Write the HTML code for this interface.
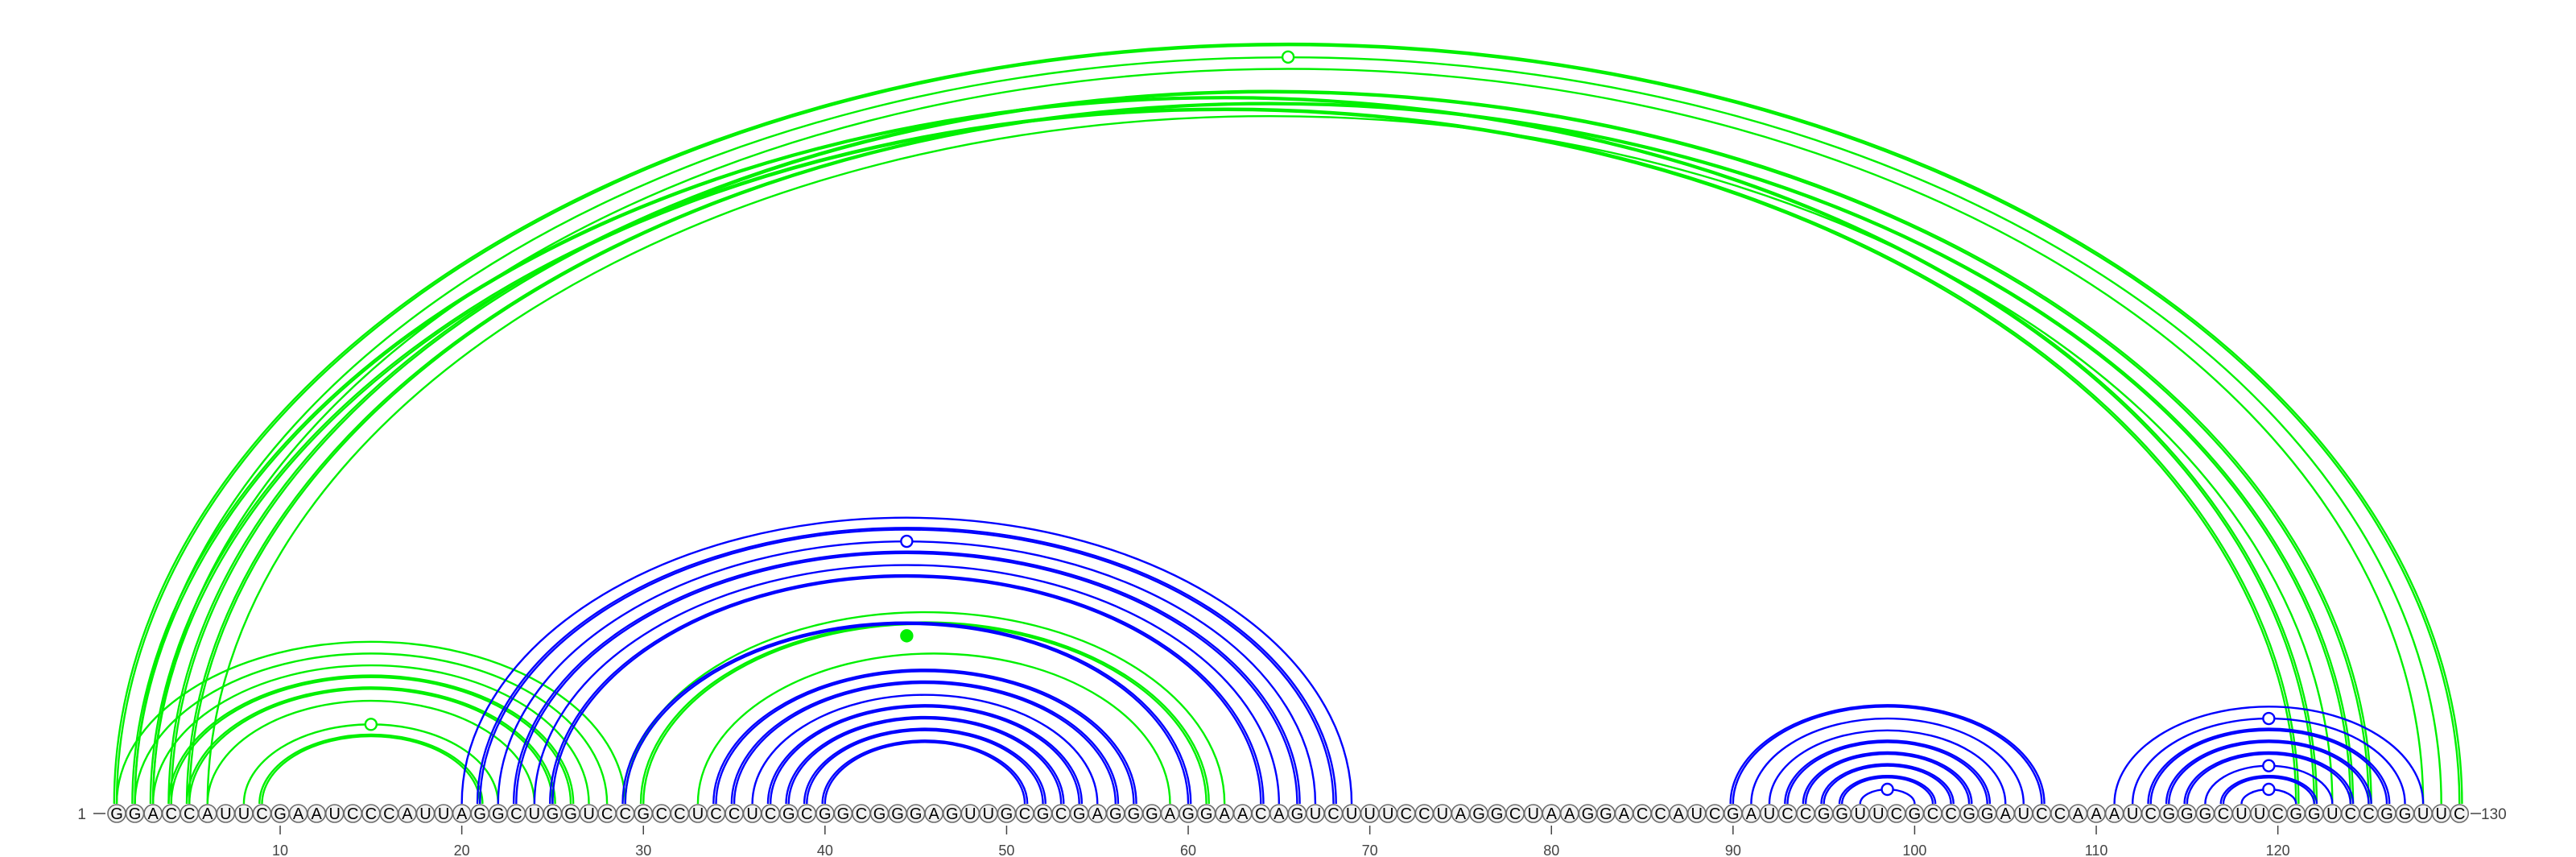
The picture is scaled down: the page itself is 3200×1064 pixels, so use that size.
<!DOCTYPE html>
<html><head><meta charset="utf-8"><style>
html,body{margin:0;padding:0;background:#fff;}
svg{display:block;font-family:"Liberation Sans",sans-serif;}
</style></head><body>
<svg id="chart" width="3200" height="1064" viewBox="0 0 3200 1064" xmlns="http://www.w3.org/2000/svg">
<g id="arcs"></g>
<g id="markers"></g>
<g id="nts"></g>
<g id="axis"></g>
</svg>
<script>
const sequence = "GGACCAUUCGAAUCCCAUUAGGCUGGUCCGCCUCCUCGCGGCGGGAGUUGCGCGAGGGAGGAACAGUCUUUCCUAGGCUAAGGACCAUCGAUCCGGUUCGCCGGAUCCAAAUCGGGCUUCGGUCCGGUUC";
const greenPairs = [[1,130],[2,129],[3,128],[4,125],[5,124],[6,123],[2,122],[3,121],
  [1,29],[2,28],[3,27],[4,26],[5,25],[6,24],[8,22],[9,21],[29,62],[30,61],[33,59]];
const greenDouble = [1,0,0,1,1,0,1,1, 0,0,0,1,1,0,0,1,0,1,0];
const bluePairs = [[20,69],[21,68],[22,67],[23,66],[24,65],[25,64],[29,60],
  [34,57],[35,56],[36,55],[37,54],[38,53],[39,52],[40,51],
  [90,107],[91,106],[92,105],[93,104],[94,103],[95,102],[96,101],[97,100],
  [111,128],[112,127],[113,126],[114,125],[115,124],[116,123],[117,122],[118,121]];
const blueDouble = [0,1,0,1,0,1,1, 1,1,0,1,1,1,1, 1,0,0,1,1,1,1,0, 0,0,1,1,1,0,1,0];
const greenMarkers = [[2,129,0],[8,22,0],[30,59,1]];
const blueMarkers = [[22,67],[97,100],[112,127],[116,123],[118,121]];
const tickValues = [10,20,30,40,50,60,70,80,90,100,110,120];

const NS = "http://www.w3.org/2000/svg";
const X0 = 145, STEP = 22.56, BASE = 1010, ARCBASE = 998;
function xPos(i){ return X0 + (i-1)*STEP; }
function arcH(rx){ return Math.max(6, 0.65*rx - 4); }
function mk(tag, attrs, parent){ const e=document.createElementNS(NS,tag); for(const k in attrs) e.setAttribute(k,attrs[k]); parent.appendChild(e); return e; }
const arcsG = document.getElementById('arcs'), mG = document.getElementById('markers');
function drawArc(a,b,color,off,name){
  const x1 = xPos(a)-off, x2 = xPos(b)+off, rx=(x2-x1)/2, ry=arcH((xPos(b)-xPos(a))/2)+off*0.65;
  const p = mk('path',{d:`M${x1},${ARCBASE} A${rx},${ry} 0 0 1 ${x2},${ARCBASE}`,fill:'none',stroke:color,'stroke-width':2.4},arcsG);
  
  
}
greenPairs.forEach((p,k)=>{ drawArc(p[0],p[1],'#00f000',0,'green-arc-'+p[0]+'-'+p[1]); if(greenDouble[k]) drawArc(p[0],p[1],'#00f000',3.2,'green-arc-'+p[0]+'-'+p[1]+'-alt'); });
bluePairs.forEach((p,k)=>{ drawArc(p[0],p[1],'#0000ff',0,'blue-arc-'+p[0]+'-'+p[1]); if(blueDouble[k]) drawArc(p[0],p[1],'#0000ff',3.2,'blue-arc-'+p[0]+'-'+p[1]+'-alt'); });
function marker(a,b,color,filled,name){
  const cx=(xPos(a)+xPos(b))/2, cy=ARCBASE-arcH((xPos(b)-xPos(a))/2);
  const c = mk('circle',{cx:cx,cy:cy,r:7,fill:filled?color:'#fff',stroke:color,'stroke-width':2.4},mG);
  
  
}
greenMarkers.forEach(m=>marker(m[0],m[1],'#00f000',m[2],'green-marker-'+m[0]+'-'+m[1]));
blueMarkers.forEach(m=>marker(m[0],m[1],'#0000ff',0,'blue-marker-'+m[0]+'-'+m[1]));
const nG = document.getElementById('nts');
for(let i=1;i<=sequence.length;i++){
  const g = mk('g',{},nG);
  
  
  mk('circle',{cx:xPos(i),cy:BASE,r:11,fill:'#f2f2f2',stroke:'#6a6a6a','stroke-width':1.6},g);
  const t = mk('text',{x:xPos(i),y:BASE+7,'text-anchor':'middle','font-size':20,fill:'#000'},g);
  t.textContent = sequence[i-1];
}
const aG = document.getElementById('axis');
tickValues.forEach(v=>{
  const l = mk('line',{x1:xPos(v),x2:xPos(v),y1:1025,y2:1036,stroke:'#444','stroke-width':1.5},aG);
  
  
  const t = mk('text',{x:xPos(v),y:1062,'text-anchor':'middle','font-size':18,fill:'#444'},aG);
  
  
  t.textContent = v;
});
const s = mk('text',{x:107,y:1017,'text-anchor':'end','font-size':19,fill:'#444'},aG);


s.textContent = '1';
const sl = mk('line',{x1:116,x2:131,y1:1010,y2:1010,stroke:'#444','stroke-width':1.5},aG);


const el = mk('line',{x1:3069,x2:3082,y1:1010,y2:1010,stroke:'#444','stroke-width':1.5},aG);


const e = mk('text',{x:3082,y:1017,'font-size':19,fill:'#444'},aG);


e.textContent = '130';
</script>
</body></html>
